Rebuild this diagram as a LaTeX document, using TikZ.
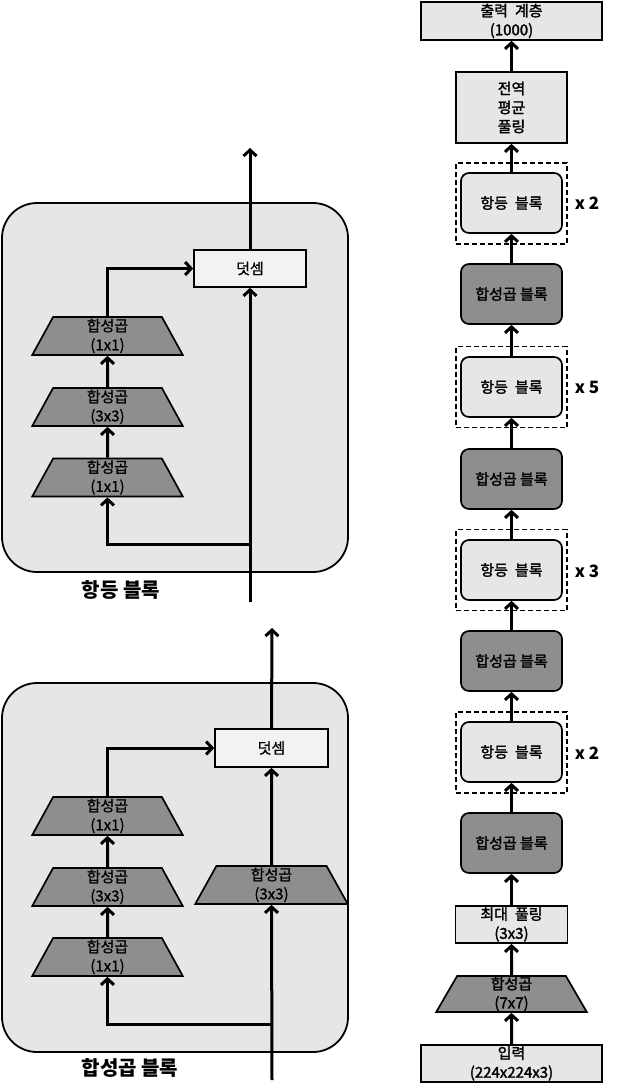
\documentclass[tikz,border=0pt]{standalone}
\usepackage{fontspec}
\setmainfont{Noto Sans CJK KR}
\newfontfamily\medium[FakeBold=0.8]{Noto Sans CJK KR}
\newfontfamily\semibold[FakeBold=1.8]{Noto Sans CJK KR}
\usepackage{tikz}
\usetikzlibrary{arrows.meta,shapes.geometric}

\definecolor{blockgray}{RGB}{230,230,230}
\definecolor{convgray}{RGB}{142,142,142}
\definecolor{addgray}{RGB}{242,242,242}

\newcommand{\wsp}{\hspace{7pt}}

\begin{document}
\begin{tikzpicture}[x=1pt, y=-1pt, >={Straight Barb[length=6pt,width=13pt]},
  every node/.style={font=\medium\fontsize{15}{19}\selectfont, align=center, inner sep=0pt},
  flow/.style={->, line width=3pt},
  outerblock/.style={draw, line width=1.8pt, fill=blockgray, rounded corners=35pt,
    minimum width=346pt, minimum height=369pt},
  conv/.style={draw, line width=1.7pt, fill=convgray, trapezium, trapezium angle=77,
    trapezium stretches=true, minimum width=151pt, minimum height=38pt},
  addbox/.style={draw, line width=1.7pt, fill=addgray, minimum width=112pt, minimum height=37pt},
  graybox/.style={draw, line width=1.7pt, fill=blockgray, font=\semibold\fontsize{15}{19}\selectfont},
  idblock/.style={draw, line width=1.7pt, fill=blockgray, rounded corners=8pt,
    minimum width=101pt, minimum height=60pt, font=\semibold\fontsize{15}{19}\selectfont},
  cvblock/.style={idblock, fill=convgray},
  repbox/.style={draw, line width=1.3pt, dash pattern=on 5pt off 3pt,
    minimum width=111pt, minimum height=81pt},
  reps/.style={font=\bfseries\fontsize{17}{20}\selectfont},
  caption/.style={font=\bfseries\fontsize{20}{23}\selectfont}]

  \useasboundingbox (0,0) rectangle (623,1087);

  % =========================
  % identity block
  % =========================
  \node[outerblock] (idouter) at (175,387.5) {};
  \node[caption] (idcap) at (121,590) {항등 블록};

  \node[addbox] (add1) at (250,268.5) {덧셈};
  \node[conv] (c1a) at (107.5,477.5) {합성곱\\(1x1)};
  \node[conv] (c1b) at (107.5,407) {합성곱\\(3x3)};
  \node[conv] (c1c) at (107.5,336) {합성곱\\(1x1)};

  \coordinate (in1) at (250,602);
  \coordinate (split1) at (250,544);
  \coordinate (out1) at (250,148);

  \draw[flow] (in1) -- (add1.south);
  \draw[flow] (add1.north) -- (out1);
  \draw[flow] (split1) -| (c1a.south);
  \draw[flow] (c1a) -- (c1b);
  \draw[flow] (c1b) -- (c1c);
  \draw[flow] (c1c.north) |- (add1.west);

  % =========================
  % convolution block
  % =========================
  \node[outerblock] (cvouter) at (175,867.5) {};
  \node[caption] (cvcap) at (130,1068) {합성곱 블록};

  \node[addbox, minimum width=113pt, minimum height=38pt] (add2) at (271.5,748) {덧셈};
  \node[conv] (c2a) at (107.5,957) {합성곱\\(1x1)};
  \node[conv] (c2b) at (107.5,887) {합성곱\\(3x3)};
  \node[conv] (c2c) at (107.5,816) {합성곱\\(1x1)};
  \node[conv, minimum width=153pt] (sc2) at (271.5,885) {합성곱\\(3x3)};

  \coordinate (in2) at (272,1080);
  \coordinate (split2) at (272,1024);
  \coordinate (out2) at (272,628);

  \draw[flow] (in2) -- (sc2.south);
  \draw[flow] (sc2.north) -- (add2.south);
  \draw[flow] (add2.north) -- (out2);
  \draw[flow] (split2) -| (c2a.south);
  \draw[flow] (c2a) -- (c2b);
  \draw[flow] (c2b) -- (c2c);
  \draw[flow] (c2c.north) |- (add2.west);

  % =========================
  % whole network
  % =========================
  \node[graybox, minimum width=181pt, minimum height=37pt] (input) at (511.5,1063.5) {입력\\(224x224x3)};
  \node[conv, minimum height=36pt, font=\semibold\fontsize{15}{19}\selectfont] (conv7) at (511.5,994) {합성곱\\(7x7)};
  \node[graybox, minimum width=112pt, minimum height=37pt] (pool) at (511.5,924.5) {최대\wsp 풀링\\(3x3)};

  \node[cvblock] (cb4) at (511.5,843) {합성곱 블록};
  \node[repbox] (rep4) at (511.5,752.5) {};
  \node[idblock] (id4) at (511.5,752) {항등\wsp 블록};
  \node[reps] (n4) at (587,753) {x 2};

  \node[cvblock] (cb3) at (511.5,661) {합성곱 블록};
  \node[repbox] (rep3) at (511.5,570) {};
  \node[idblock] (id3) at (511.5,570) {항등\wsp 블록};
  \node[reps] (n3) at (587,571) {x 3};

  \node[cvblock] (cb2) at (511.5,479) {합성곱 블록};
  \node[repbox] (rep2) at (511.5,387) {};
  \node[idblock] (id2) at (511.5,387) {항등\wsp 블록};
  \node[reps] (n2) at (587,387) {x 5};

  \node[cvblock] (cb1) at (511.5,294) {합성곱 블록};
  \node[repbox] (rep1) at (511.5,203.5) {};
  \node[idblock] (id1) at (511.5,203) {항등\wsp 블록};
  \node[reps] (n1) at (587,203) {x 2};

  \node[graybox, minimum width=111pt, minimum height=71pt] (gap) at (511.5,107.5) {전역\\평균\\풀링};
  \node[graybox, minimum width=181pt, minimum height=38pt] (output) at (511.5,21) {출력\wsp 계층\\(1000)};

  \foreach \a/\b in {input/conv7, conv7/pool, pool/cb4, cb4/id4, id4/cb3, cb3/id3,
                     id3/cb2, cb2/id2, id2/cb1, cb1/id1, id1/gap, gap/output}
    \draw[flow] (\a) -- (\b);

\end{tikzpicture}
\end{document}
